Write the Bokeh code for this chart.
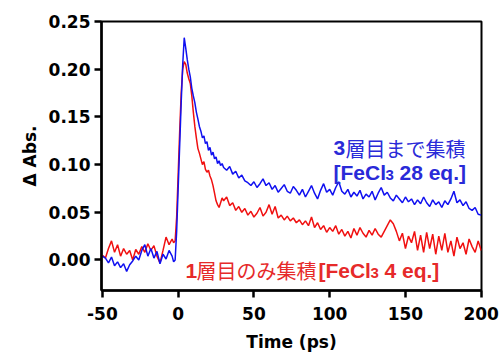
from bokeh.plotting import figure
from bokeh.models import ColumnDataSource, Label, FixedTicker, Range1d
from bokeh.embed import file_html
from bokeh.resources import INLINE

# ---- data ----
t_head = list(range(-50, -4, 2))   # -50 .. -6, step 2
t_mid = list(range(-4, 30))        # -4 .. 29, step 1
t_tail = list(range(30, 201, 2))   # 30 .. 200, step 2
time_ps = t_head + t_mid + t_tail

blue_head = [0.004, 0.002, -0.003, 0.003, -0.006, -0.002, -0.008, -0.004, -0.012, -0.005,
             -0.001, 0.004, 0.000, 0.010, 0.016, 0.004, 0.012, 0.002, 0.009, -0.004,
             0.006, 0.001, 0.010]
blue_mid = [0.004, -0.002, 0.000, 0.030, 0.075, 0.120, 0.165, 0.205, 0.233, 0.222,
            0.210, 0.200, 0.192, 0.180, 0.172, 0.165, 0.155, 0.148, 0.140, 0.135,
            0.128, 0.130, 0.122, 0.124, 0.115, 0.118, 0.110, 0.113, 0.106, 0.108,
            0.101, 0.104, 0.099, 0.101]
blue_tail = [0.097, 0.094, 0.098, 0.090, 0.093, 0.086, 0.089, 0.083, 0.081, 0.078,
             0.082, 0.076, 0.080, 0.085, 0.078, 0.081, 0.074, 0.078, 0.071, 0.075,
             0.079, 0.072, 0.070, 0.077, 0.073, 0.068, 0.074, 0.066, 0.072, 0.078,
             0.070, 0.064, 0.073, 0.080, 0.071, 0.074, 0.068, 0.076, 0.082, 0.072,
             0.069, 0.074, 0.066, 0.071, 0.067, 0.073, 0.064, 0.069, 0.066, 0.072,
             0.063, 0.070, 0.076, 0.068, 0.071, 0.065, 0.062, 0.068, 0.064, 0.060,
             0.066, 0.061, 0.064, 0.058, 0.063, 0.059, 0.066, 0.060, 0.056, 0.063,
             0.058, 0.061, 0.055, 0.062, 0.058, 0.064, 0.072, 0.060, 0.063, 0.057,
             0.061, 0.054, 0.052, 0.055, 0.048, 0.047]

red_head = [0.005, 0.002, 0.012, 0.020, 0.008, 0.016, 0.004, 0.012, 0.006, 0.010,
            0.000, 0.011, 0.006, 0.014, 0.008, 0.017, 0.010, 0.015, 0.004, -0.003,
            0.010, 0.024, 0.016]
red_mid = [0.022, 0.018, 0.020, 0.045, 0.090, 0.135, 0.175, 0.200, 0.208, 0.205,
           0.196, 0.190, 0.185, 0.172, 0.155, 0.140, 0.128, 0.117, 0.112, 0.106,
           0.100, 0.103, 0.095, 0.092, 0.094, 0.088, 0.084, 0.078, 0.070, 0.062,
           0.058, 0.055, 0.060, 0.065]
red_tail = [0.062, 0.066, 0.057, 0.060, 0.052, 0.056, 0.050, 0.054, 0.047, 0.051,
            0.045, 0.049, 0.055, 0.046, 0.050, 0.058, 0.048, 0.056, 0.044, 0.047,
            0.042, 0.046, 0.041, 0.044, 0.039, 0.042, 0.037, 0.041, 0.036, 0.045,
            0.034, 0.039, 0.032, 0.036, 0.029, 0.034, 0.030, 0.036, 0.027, 0.032,
            0.025, 0.030, 0.023, 0.033, 0.026, 0.034, 0.028, 0.024, 0.031, 0.026,
            0.033, 0.027, 0.024, 0.030, 0.036, 0.042, 0.038, 0.030, 0.020, 0.028,
            0.012, 0.025, 0.018, 0.030, 0.010, 0.026, 0.008, 0.029, 0.012, 0.027,
            0.006, 0.025, 0.010, 0.028, 0.008, 0.020, 0.004, 0.024, 0.012, 0.018,
            0.006, 0.022, 0.014, 0.008, 0.020, 0.010]

blue_28eq = blue_head + blue_mid + blue_tail
red_4eq = red_head + red_mid + red_tail

x_ticks = [-50, 0, 50, 100, 150, 200]
x_tick_labels = ["-50", "0", "50", "100", "150", "200"]
y_ticks = [0.0, 0.05, 0.10, 0.15, 0.20, 0.25]
y_tick_labels = ["0.00", "0.05", "0.10", "0.15", "0.20", "0.25"]

BLUE = "#1010f0"
RED = "#f01010"
BLUE_TXT = "#2a2ad8"
RED_TXT = "#e62a2a"

src = ColumnDataSource(dict(t=time_ps, blue=blue_28eq, red=red_4eq))

p = figure(width=503, height=354, output_backend="svg", toolbar_location=None,
           x_range=Range1d(-50.6, 200.2), y_range=Range1d(-0.032, 0.25),
           min_border_left=101, min_border_right=22, min_border_top=21, min_border_bottom=59)
p.background_fill_color = "white"
p.border_fill_color = "white"
p.xgrid.visible = False
p.ygrid.visible = False
p.outline_line_color = "black"
p.outline_line_width = 2

p.line("t", "red", source=src, line_color=RED, line_width=1.5)
p.line("t", "blue", source=src, line_color=BLUE, line_width=1.5)

FONT = "DejaVu Sans"
for ax in (p.xaxis[0], p.yaxis[0]):
    ax.axis_line_width = 2.5
    ax.major_tick_line_width = 2.5
    ax.major_tick_out = 7
    ax.major_tick_in = 0
    ax.minor_tick_line_color = None
    ax.major_label_text_font = FONT
    ax.major_label_text_font_style = "bold"
    ax.major_label_text_font_size = "17px"
    ax.major_label_text_color = "black"
    ax.axis_label_text_font = FONT
    ax.axis_label_text_font_style = "bold"
    ax.axis_label_text_font_size = "17px"
    ax.axis_label_text_color = "black"

p.xaxis.ticker = FixedTicker(ticks=x_ticks)
p.xaxis.major_label_overrides = dict(zip(x_ticks, x_tick_labels))
p.yaxis.ticker = FixedTicker(ticks=y_ticks)
p.yaxis.major_label_overrides = dict(zip(y_ticks, y_tick_labels))
p.xaxis.axis_label = "Time (ps)"
p.yaxis.axis_label = "Δ Abs."
p.xaxis.major_label_standoff = 9
p.yaxis.major_label_standoff = 4
p.xaxis.axis_label_standoff = 9
p.yaxis.axis_label_standoff = 6

JP = "Noto Sans CJK JP"
LAT = "Liberation Sans"

def add_segments(x, y, segs, color):
    for text, dx, dy, font, style, size in segs:
        p.add_layout(Label(x=x, y=y, x_offset=dx, y_offset=dy, text=text,
                           text_font=font, text_font_style=style,
                           text_font_size=size, text_color=color,
                           text_baseline="alphabetic", text_align="left"))

# blue annotation (two lines)
blue_anchor_x, blue_line1_y, blue_line2_y = 102.5, 0.1173, 0.0916
add_segments(blue_anchor_x, blue_line1_y, [
    ("3", 0, 0, LAT, "bold", "21px"),
    ("層目まで集積", 12, 0, JP, "normal", "20px"),
], BLUE_TXT)
add_segments(blue_anchor_x, blue_line2_y, [
    ("[FeCl", 0, 0, LAT, "bold", "21px"),
    ("3", 52, -2, LAT, "bold", "15px"),
    ("28 eq.]", 66, 0, LAT, "bold", "21px"),
], BLUE_TXT)

# red annotation (one line)
red_anchor_x, red_anchor_y = 4.8, -0.0113
add_segments(red_anchor_x, red_anchor_y, [
    ("1", 0, 0, LAT, "bold", "21px"),
    ("層目のみ集積", 11, 0, JP, "normal", "20px"),
    ("[FeCl", 133, 0, LAT, "bold", "21px"),
    ("3", 185, -2, LAT, "bold", "15px"),
    ("4 eq.]", 199, 0, LAT, "bold", "21px"),
], RED_TXT)

open("out.html", "w").write(file_html(p, INLINE))
